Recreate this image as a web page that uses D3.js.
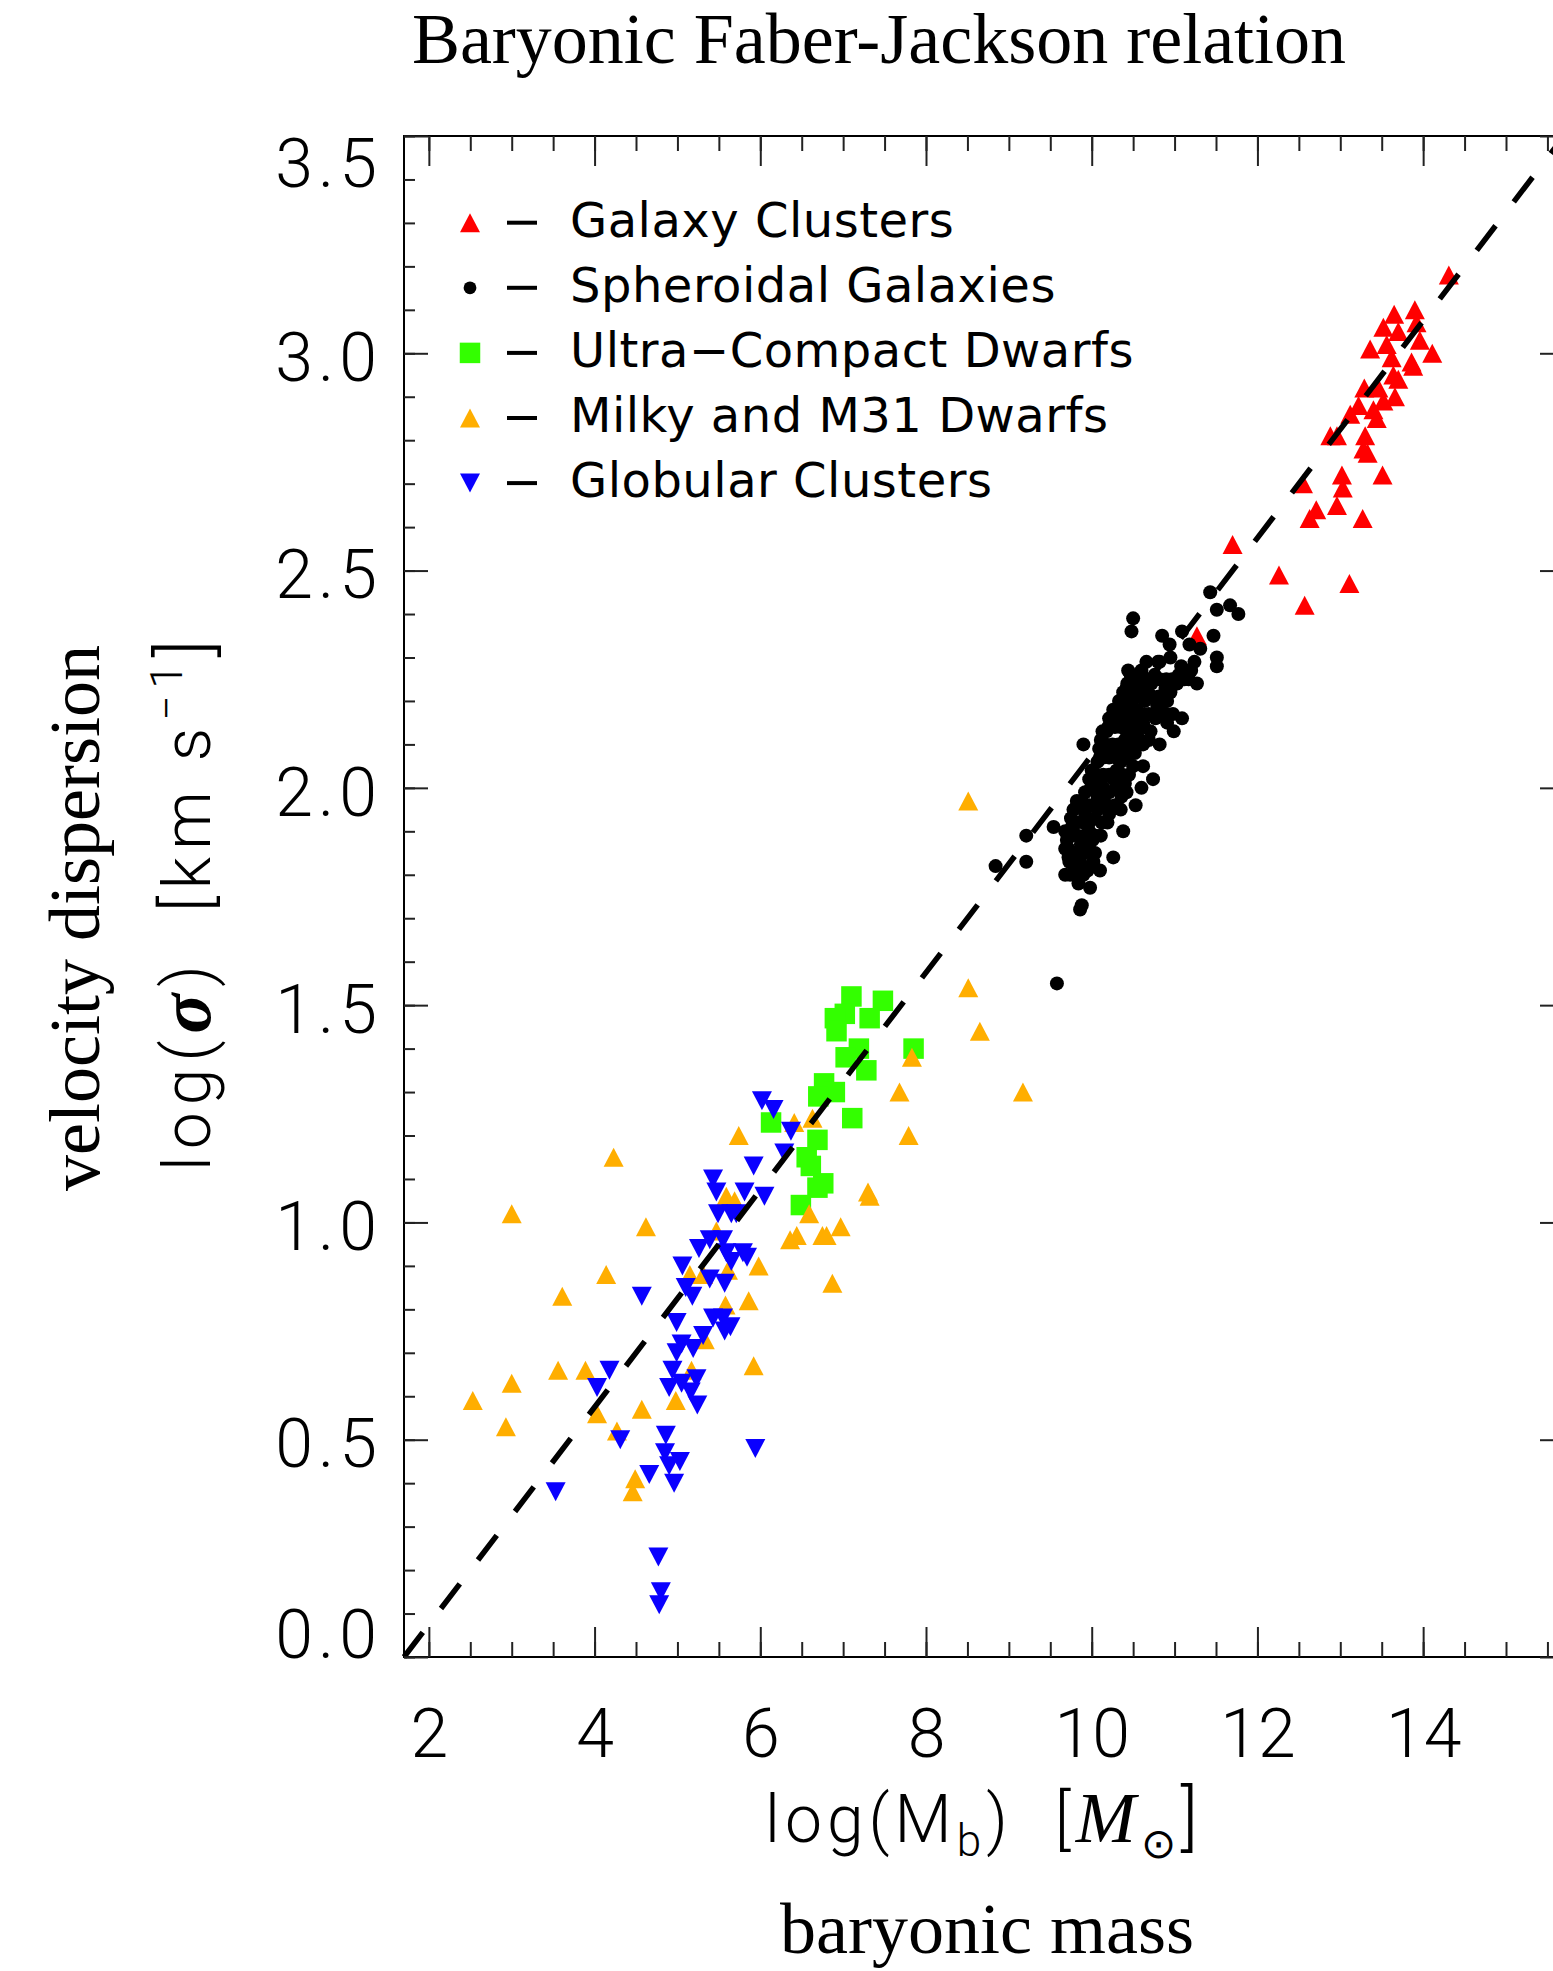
<!DOCTYPE html>
<html>
<head>
<meta charset="utf-8">
<script src="https://cdn.jsdelivr.net/npm/d3@7/dist/d3.min.js"></script>
<style>
  body { margin: 0; background: #fff; }
  svg text { white-space: pre; }
</style>
</head>
<body>
<svg id="chart" width="1553" height="1971"></svg>
<script>
// ---- data: [log Mb, log sigma] ----
var galaxyClusters = [
  [14.31,3.18],[13.65,3.09],[13.90,3.10],[13.52,3.06],[13.70,3.05],[13.92,3.07],[13.96,3.03],
  [13.36,3.01],[13.56,3.02],[14.11,3.00],[13.62,2.99],[13.86,2.98],[13.88,2.97],[13.64,2.95],
  [13.70,2.94],[13.46,2.92],[13.29,2.92],[13.66,2.90],[13.52,2.89],[13.22,2.88],[13.40,2.87],
  [13.12,2.86],[13.44,2.85],[12.96,2.81],[12.88,2.81],[13.30,2.81],[13.28,2.78],[13.33,2.77],
  [13.02,2.72],[13.51,2.72],[12.55,2.70],[13.03,2.69],[12.71,2.64],[12.96,2.65],[12.63,2.62],
  [13.27,2.62],[11.70,2.56],[12.26,2.49],[13.11,2.47],[12.57,2.42],[11.27,2.35]
];

var spheroidals = [
  [11.43,2.45],[11.51,2.41],[11.67,2.42],[11.77,2.40],[10.50,2.39],[10.48,2.36],[10.85,2.35],
  [11.09,2.36],[11.47,2.35],[11.51,2.30],[11.51,2.28],[10.94,2.33],[11.31,2.32],[11.18,2.33],
  [10.66,2.29],[10.44,2.27],[10.82,2.29],[11.27,2.24],[11.09,2.16],[10.99,2.13],[10.42,2.23],
  [10.42,2.19],[9.90,2.10],[10.82,2.10],[10.62,2.05],[10.74,2.02],[10.60,2.00],[10.53,1.96],
  [10.18,2.13],[10.10,2.07],[10.00,2.04],[10.00,2.00],[9.88,1.97],[10.42,1.99],[9.54,1.91],
  [9.76,1.91],[10.38,1.90],[10.26,1.84],[10.10,1.81],[9.21,1.89],[9.21,1.83],[9.72,1.86],
  [9.72,1.84],[9.86,1.83],[10.04,1.85],[9.68,1.80],[9.84,1.78],[9.98,1.77],[9.88,1.73],
  [9.86,1.72],[9.58,1.55],[8.84,1.82],
  [10.80,2.29],[10.95,2.30],[11.08,2.28],[11.24,2.29],
  [10.47,2.26],[10.60,2.27],[10.76,2.26],[10.90,2.25],[11.05,2.26],[11.20,2.27],
  [10.43,2.24],[10.57,2.23],[10.72,2.24],[10.89,2.23],[11.03,2.24],[11.17,2.25],
  [10.38,2.22],[10.52,2.21],[10.67,2.22],[10.81,2.21],[10.95,2.22],
  [10.33,2.20],[10.48,2.19],[10.64,2.20],[10.79,2.19],[10.91,2.20],
  [10.26,2.18],[10.40,2.17],[10.54,2.18],[10.69,2.17],[10.83,2.18],[10.98,2.17],
  [10.21,2.16],[10.35,2.15],[10.48,2.16],[10.62,2.15],[10.77,2.16],[10.91,2.15],
  [10.13,2.13],[10.28,2.14],[10.42,2.13],[10.55,2.12],[10.71,2.13],
  [10.11,2.11],[10.25,2.10],[10.40,2.11],[10.57,2.10],[10.69,2.11],
  [10.09,2.09],[10.23,2.08],[10.38,2.09],[10.52,2.08],
  [10.07,2.06],[10.21,2.07],[10.35,2.06],[10.50,2.05],
  [10.01,2.04],[10.14,2.03],[10.30,2.04],[10.45,2.03],
  [9.97,2.02],[10.11,2.01],[10.26,2.02],[10.40,2.01],
  [9.92,1.99],[10.07,1.98],[10.21,1.99],[10.36,1.98],
  [9.82,1.97],[9.97,1.96],[10.13,1.97],[10.28,1.96],
  [9.78,1.95],[9.92,1.94],[10.07,1.95],[10.21,1.94],[10.35,1.95],
  [9.75,1.93],[9.90,1.92],[10.04,1.93],[10.19,1.92],
  [9.68,1.90],[9.83,1.89],[9.97,1.90],[10.11,1.89],
  [9.70,1.88],[9.87,1.87],[10.01,1.88],
  [9.68,1.86],[9.83,1.85],[9.97,1.86],
  [9.73,1.83],[9.89,1.82],[10.02,1.83],
  [9.74,1.80],[9.90,1.80],
  [10.52,2.25],[10.67,2.25],[10.82,2.25],[10.97,2.25],[11.12,2.25],
  [10.44,2.21],[10.59,2.21],[10.73,2.21],[10.87,2.21],
  [10.32,2.17],[10.47,2.17],[10.61,2.17],[10.76,2.17],[10.90,2.17],
  [10.20,2.14],[10.35,2.14],[10.49,2.14],[10.63,2.14],
  [10.17,2.10],[10.32,2.10],[10.47,2.10],[10.62,2.10],
  [10.14,2.07],[10.29,2.07],[10.43,2.07],
  [10.06,2.03],[10.21,2.03],[10.37,2.03],
  [9.99,2.00],[10.14,2.00],[10.29,2.00],
  [9.89,1.96],[10.04,1.96],[10.19,1.96],
  [9.82,1.92],[9.97,1.92],[10.12,1.92],
  [9.76,1.89],[9.91,1.89],[10.05,1.89],
  [9.76,1.85],[9.91,1.85],
  [9.80,1.81],[9.95,1.81]
];

var ultraCompact = [
  [7.10,1.52],[7.48,1.51],[7.02,1.48],[6.90,1.47],[6.92,1.44],[7.32,1.47],[7.19,1.40],
  [7.85,1.40],[7.03,1.38],[7.28,1.35],[6.77,1.32],[6.90,1.30],[6.70,1.29],[7.11,1.24],
  [6.13,1.23],[6.69,1.19],[6.56,1.15],[6.61,1.13],[6.76,1.09],[6.69,1.08],[6.49,1.04]
];

var localDwarfs = [
  [8.51,1.54],[8.51,1.97],[8.65,1.44],[7.83,1.38],[7.68,1.30],[9.17,1.30],[7.79,1.20],
  [6.63,1.24],[6.41,1.23],[5.74,1.20],[7.30,1.07],[7.32,1.06],[6.59,1.02],[6.97,0.99],
  [6.44,0.97],[6.36,0.96],[6.75,0.97],[6.80,0.97],[4.62,0.99],[5.98,0.90],[6.87,0.86],
  [5.86,0.82],[5.58,0.81],[5.92,0.67],[4.98,0.59],[4.57,0.57],[5.59,1.06],[5.69,1.05],
  [5.47,0.98],[5.15,0.88],[5.31,0.88],[5.61,0.89],[5.33,0.73],[5.17,0.66],[4.23,1.15],
  [3.00,1.02],[4.14,0.88],[3.61,0.83],[3.56,0.66],[3.89,0.66],[3.00,0.63],[2.53,0.59],
  [2.93,0.53],[4.03,0.56],[4.27,0.52],[4.49,0.41],[4.46,0.38]
];

var globulars = [
  [6.02,1.28],[6.16,1.26],[6.37,1.21],[6.29,1.16],[5.92,1.13],[5.43,1.10],[5.47,1.07],
  [5.81,1.07],[6.05,1.06],[5.49,1.02],[5.65,1.02],[5.71,1.02],[5.39,0.96],[5.55,0.96],
  [5.26,0.94],[5.59,0.93],[5.79,0.93],[5.84,0.92],[5.65,0.91],[5.06,0.90],[5.39,0.87],
  [5.57,0.86],[5.10,0.85],[5.18,0.83],[4.57,0.83],[4.99,0.77],[5.43,0.78],[5.55,0.78],
  [5.64,0.76],[5.57,0.75],[5.31,0.74],[5.05,0.72],[5.19,0.71],[4.99,0.70],[4.94,0.66],
  [5.23,0.64],[4.90,0.62],[5.05,0.63],[5.16,0.61],[5.24,0.58],[4.86,0.51],[4.85,0.47],
  [5.03,0.45],[5.94,0.48],[4.18,0.66],[4.03,0.62],[4.31,0.50],[4.66,0.42],[4.90,0.44],
  [4.96,0.40],[3.53,0.38],[4.77,0.23],[4.80,0.15],[4.78,0.12]
];

// MOND-like relation, log sigma = (log M - zero) / 4
var relationZero = 1.7, relationSlope = 0.25;

var xTickLabels = [2, 4, 6, 8, 10, 12, 14];
var yTickLabels = [0, 0.5, 1.0, 1.5, 2.0, 2.5, 3.0, 3.5];
var legendNames = ["Galaxy Clusters", "Spheroidal Galaxies", "Ultra\u2212Compact Dwarfs",
                   "Milky and M31 Dwarfs", "Globular Clusters"];

(function() {
// ---- layout ----
var svg = d3.select("#chart");
var plotLeft = 404, plotRight = 1564, plotTop = 136, plotBottom = 1657;
var thin = "Roboto, 'Open Sans', sans-serif";
var serif = "'Liberation Serif', 'Times New Roman', serif";

var x = d3.scaleLinear().domain([1.7, 15.7]).range([plotLeft, plotRight]);
var y = d3.scaleLinear().domain([0, 3.5]).range([plotBottom, plotTop]);

var xMinor = d3.range(2, 15.6, 0.5);
var yMinor = d3.range(0, 3.51, 0.1).map(function(v) { return +v.toFixed(1); });

// symbol path builders (centered on 0,0)
var shapes = {
  up: function(w, h) { return "M0," + (-h/2) + "L" + (w/2) + "," + (h/2) + "L" + (-w/2) + "," + (h/2) + "Z"; },
  down: function(w, h) { return "M0," + (h/2) + "L" + (w/2) + "," + (-h/2) + "L" + (-w/2) + "," + (-h/2) + "Z"; },
  square: function(w) { return "M" + (-w/2) + "," + (-w/2) + "h" + w + "v" + w + "h" + (-w) + "Z"; },
  dot: function(r) { return d3.arc()({innerRadius: 0, outerRadius: r, startAngle: 0, endAngle: 2 * Math.PI}); }
};

var groups = [
  {data: galaxyClusters, color: "#ff0000", path: shapes.up(20, 19)},
  {data: spheroidals, color: "#000000", path: shapes.dot(7)},
  {data: ultraCompact, color: "#33ff00", path: shapes.square(20.5)},
  {data: localDwarfs, color: "#ffae00", path: shapes.up(20, 19)},
  {data: globulars, color: "#0a00ff", path: shapes.down(20, 19)}
];

// points
var plot = svg.append("g");
groups.forEach(function(g) {
  plot.append("g").selectAll("path")
    .data(g.data)
    .enter().append("path")
    .attr("d", g.path)
    .attr("fill", g.color)
    .attr("transform", function(d) { return "translate(" + x(d[0]) + "," + y(d[1]) + ")"; });
});

// relation line
svg.append("path")
  .datum(x.domain().map(function(m) { return [m, (m - relationZero) * relationSlope]; }))
  .attr("d", d3.line().x(function(d) { return x(d[0]); }).y(function(d) { return y(d[1]); }))
  .attr("fill", "none").attr("stroke", "#000").attr("stroke-width", 5.5)
  .attr("stroke-dasharray", "31,30");

// frame
svg.append("rect").attr("x", plotLeft).attr("y", plotTop)
  .attr("width", plotRight - plotLeft).attr("height", plotBottom - plotTop)
  .attr("fill", "none").attr("stroke", "#000").attr("stroke-width", 2);

// ticks via axes
function ticks(axis, values, size, transform) {
  var g = svg.append("g").attr("transform", transform)
    .call(axis.tickValues(values).tickSize(size).tickFormat(""));
  g.select(".domain").remove();
  g.selectAll("line").attr("stroke", "#222").attr("stroke-width", 2);
}
ticks(d3.axisBottom(x), xMinor, -15, "translate(0," + plotBottom + ")");
ticks(d3.axisBottom(x), xTickLabels, -30, "translate(0," + plotBottom + ")");
ticks(d3.axisTop(x), xMinor, -15, "translate(0," + plotTop + ")");
ticks(d3.axisTop(x), xTickLabels, -30, "translate(0," + plotTop + ")");
ticks(d3.axisLeft(y), yMinor, -11, "translate(" + plotLeft + ",0)");
ticks(d3.axisLeft(y), yTickLabels, -24, "translate(" + plotLeft + ",0)");
ticks(d3.axisRight(y), yMinor, -11, "translate(" + plotRight + ",0)");
ticks(d3.axisRight(y), yTickLabels, -24, "translate(" + plotRight + ",0)");

// tick labels
var xl = svg.append("g").attr("transform", "translate(0," + plotBottom + ")")
  .call(d3.axisBottom(x).tickValues(xTickLabels).tickSize(0).tickPadding(52).tickFormat(d3.format("d")));
xl.select(".domain").remove();
xl.selectAll("text").attr("font-family", thin).attr("font-weight", 300)
  .attr("font-size", 68).attr("fill", "#000");

var yl = svg.append("g").attr("transform", "translate(" + plotLeft + ",0)")
  .call(d3.axisLeft(y).tickValues(yTickLabels).tickSize(0).tickPadding(22).tickFormat(d3.format(".1f")));
yl.select(".domain").remove();
yl.selectAll("text").attr("font-family", thin).attr("font-weight", 300)
  .attr("font-size", 68).attr("fill", "#000").attr("letter-spacing", 5)
  .attr("dy", function(d) { return d === 3.5 ? "0.74em" : d === 0 ? "0em" : "0.40em"; });

// legend
var legend = svg.append("g").selectAll("g")
  .data(legendNames)
  .enter().append("g")
  .attr("transform", function(d, i) { return "translate(470," + (222.7 + i * 65.1) + ")"; });
legend.append("path")
  .attr("d", function(d, i) { return i === 1 ? shapes.dot(6.4) : groups[i].path; })
  .attr("fill", function(d, i) { return groups[i].color; });
legend.append("line").attr("x1", 37).attr("x2", 67).attr("y1", 0).attr("y2", 0)
  .attr("stroke", "#000").attr("stroke-width", 4);
legend.append("text").attr("x", 100).attr("y", 14)
  .attr("font-family", "'DejaVu Sans', sans-serif").attr("font-size", 48)
  .attr("letter-spacing", 0.5)
  .text(function(d) { return d; });

// titles
svg.append("text").attr("x", 879).attr("y", 63).attr("text-anchor", "middle")
  .attr("font-family", serif).attr("font-size", 72).text("Baryonic Faber-Jackson relation");

svg.append("text").attr("x", 987).attr("y", 1953).attr("text-anchor", "middle")
  .attr("font-family", serif).attr("font-size", 72).text("baryonic mass");

svg.append("text").attr("transform", "translate(99,918) rotate(-90)").attr("text-anchor", "middle")
  .attr("font-family", serif).attr("font-size", 72).text("velocity dispersion");

var xt = svg.append("text").attr("x", 984).attr("y", 1842).attr("text-anchor", "middle")
  .attr("font-family", thin).attr("font-weight", 300).attr("font-size", 66)
  .attr("letter-spacing", 5);
xt.append("tspan").text("log(M");
xt.append("tspan").attr("font-size", 44).attr("dy", 14).text("b");
xt.append("tspan").attr("dy", -14).text(")  [");
xt.append("tspan").attr("font-family", serif).attr("font-style", "italic").attr("font-size", 72).text("M");
xt.append("tspan").attr("font-family", "'DejaVu Sans', sans-serif").attr("font-size", 42).attr("dy", 16).text("\u2299");
xt.append("tspan").attr("dy", -16).attr("font-size", 72).text("]");

var yt = svg.append("text").attr("transform", "translate(210,902) rotate(-90)").attr("text-anchor", "middle")
  .attr("font-family", thin).attr("font-weight", 300).attr("font-size", 66)
  .attr("letter-spacing", 7);
yt.append("tspan").text("log(");
yt.append("tspan").attr("font-family", serif).attr("font-style", "italic").attr("font-weight", "bold")
  .attr("font-size", 74).text("\u03c3");
yt.append("tspan").text(")  [km s");
yt.append("tspan").attr("font-size", 44).attr("dy", -28).text("\u22121");
yt.append("tspan").attr("dy", 28).attr("font-size", 72).text("]");
})();
</script>
</body>
</html>
